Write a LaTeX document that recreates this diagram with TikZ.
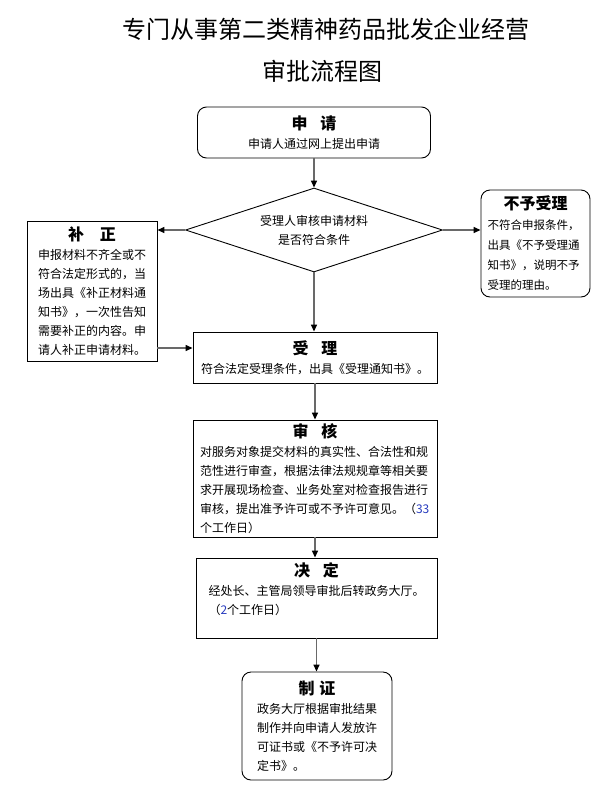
\documentclass[tikz,border=0pt]{standalone}
\usepackage{fontspec}
\setmainfont{Noto Sans CJK SC}
\usetikzlibrary{arrows.meta,shapes.geometric}
\definecolor{edge}{RGB}{105,105,105}
\definecolor{daynum}{RGB}{40,60,190}
\newcommand\btitle[1]{{\fontsize{16pt}{19pt}\selectfont\bfseries #1}}
\tikzset{
  headline/.style={font=\fontsize{24pt}{28pt}\selectfont, inner sep=0pt},
  stepbox/.style={draw=black, line width=0.9pt, inner sep=0pt,
              font=\fontsize{12pt}{19pt}\selectfont},
  roundbox/.style={stepbox, rounded corners=9pt},
  judge/.style={diamond, draw=black, line width=0.9pt, inner sep=0pt, aspect=3.06,
              minimum width=257pt, minimum height=84pt, align=center,
              font=\fontsize{12pt}{19pt}\selectfont},
  flow/.style={-{Triangle[length=7pt,width=6pt,color=black]}, edge, line width=1.4pt},
}
\begin{document}
\begin{tikzpicture}[x=1pt,y=-1pt]
    \useasboundingbox (0,0) rectangle (600,801);
    \node[headline] (head1) at (326,29) {专门从事第二类精神药品批发企业经营};
    \node[headline] (head2) at (322,71) {审批流程图};
    \node[roundbox, minimum width=233pt, minimum height=51pt, align=center] (apply) at (314,132.5) {\btitle{申\hspace{0.8em}请}\\申请人通过网上提出申请};
    \node[judge] (check) at (314,230) {受理人审核申请材料\\是否符合条件};
    \node[stepbox, minimum width=130pt, minimum height=140pt, text width=108pt, align=left] (fix) at (92,291) {\makebox[\linewidth]{\btitle{补\hspace{1em}正}}\\申报材料不齐全或不\\符合法定形式的，当\\场出具《补正材料通\\知书》，一次性告知\\需要补正的内容。申\\请人补正申请材料。};
    \node[roundbox, minimum width=109pt, minimum height=107pt, text width=96pt, align=left, font=\fontsize{11.5pt}{20pt}\selectfont] (reject) at (535.5,243.5) {\makebox[\linewidth]{\btitle{不予受理}}\\不符合申报条件，\\出具《不予受理通\\知书》，说明不予\\受理的理由。};
    \node[stepbox, minimum width=244pt, minimum height=51pt, align=center] (accept) at (315,357.5) {\btitle{受\hspace{0.8em}理}\\符合法定受理条件，出具《受理通知书》。};
    \node[stepbox, minimum width=244pt, minimum height=117pt, text width=230pt, align=left] (review) at (315,478.5) {\makebox[\linewidth]{\btitle{审\hspace{0.8em}核}}\\对服务对象提交材料的真实性、合法性和规\\范性进行审查，根据法律法规规章等相关要\\求开展现场检查、业务处室对检查报告进行\\审核，提出准予许可或不予许可意见。（\textcolor{daynum}{33}\\个工作日）};
    \node[stepbox, minimum width=241pt, minimum height=80pt, text width=216pt, align=left] (settle) at (316.5,598) {\makebox[\linewidth]{\btitle{决\hspace{0.8em}定}}\\经处长、主管局领导审批后转政务大厅。\\（\textcolor{daynum}{2}个工作日）\\\mbox{}};
    \node[roundbox, minimum width=150pt, minimum height=108pt, text width=120pt, align=left] (issue) at (317,726) {\makebox[\linewidth]{\btitle{制\hspace{0.3em}证}}\\政务大厅根据审批结果\\制作并向申请人发放许\\可证书或《不予许可决\\定书》。};
    \draw[flow] (apply) -- (check);
    \draw[flow] (check.west) -- (check.west -| fix.east);
    \draw[flow] (check.east) -- (check.east -| reject.west);
    \draw[flow] (check.south) -- (check.south |- accept.north);
    \draw[flow] ([yshift=9.5pt]accept.west -| fix.east) -- ([yshift=9.5pt]accept.west);
    \draw[flow] (accept) -- (review);
    \draw[flow] (review.south) -- (review.south |- settle.north);
    \draw[flow] (settle.south) -- (settle.south |- issue.north);
\end{tikzpicture}
\end{document}
